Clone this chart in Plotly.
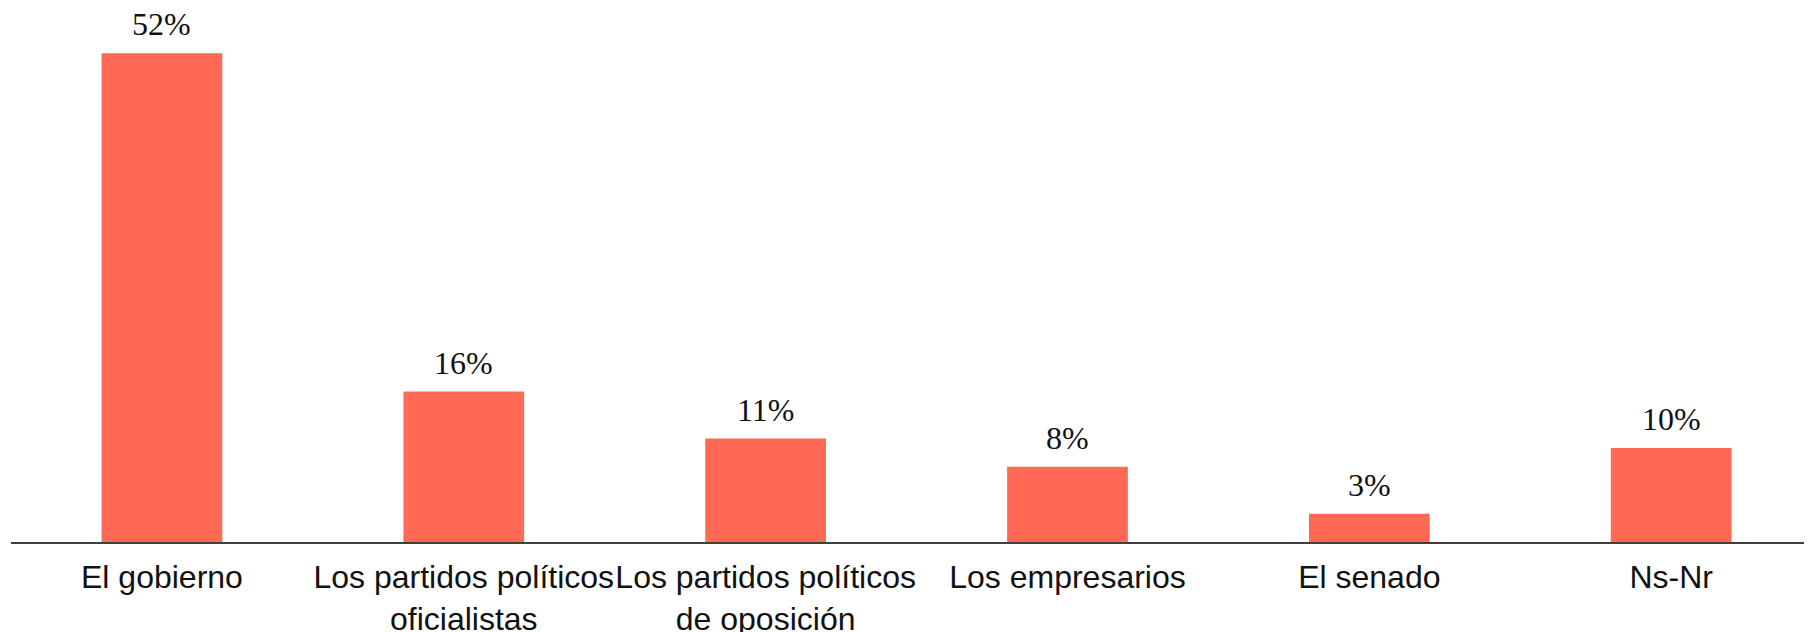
import plotly.graph_objects as go

categories = ["El gobierno", "Los partidos políticos<br>oficialistas", "Los partidos políticos<br>de oposición",
              "Los empresarios", "El senado", "Ns-Nr"]
values = [52, 16, 11, 8, 3, 10]
labels = ["52%", "16%", "11%", "8%", "3%", "10%"]

fig = go.Figure()
fig.add_trace(go.Bar(
    x=list(range(len(categories))), y=values,
    marker=dict(color="#FF6955", line=dict(width=0)),
    width=0.4, hoverinfo="skip",
))
for i, (v, t) in enumerate(zip(values, labels)):
    fig.add_annotation(x=i, y=v, text=t, showarrow=False, yanchor="middle", yshift=29,
                       font=dict(family="Liberation Serif", size=32, color="#111111"))

fig.update_layout(
    width=1812, height=632,
    margin=dict(l=3, r=0, t=12, b=98),
    paper_bgcolor="white", plot_bgcolor="white",
    showlegend=False,
    bargap=0.6,
)
fig.update_xaxes(
    tickmode="array", tickvals=list(range(len(categories))), ticktext=categories,
    range=[-0.5, 5.493], showgrid=False, zeroline=False,
    showline=True, linecolor="#404040", linewidth=2,
    tickfont=dict(family="Liberation Sans", size=32, color="#111111"),
    ticks="", ticklabelstandoff=6, automargin=False, tickangle=0,
)
fig.update_yaxes(range=[0, 55.53], visible=False, showgrid=False, zeroline=False)

fig.write_html("out.html")
